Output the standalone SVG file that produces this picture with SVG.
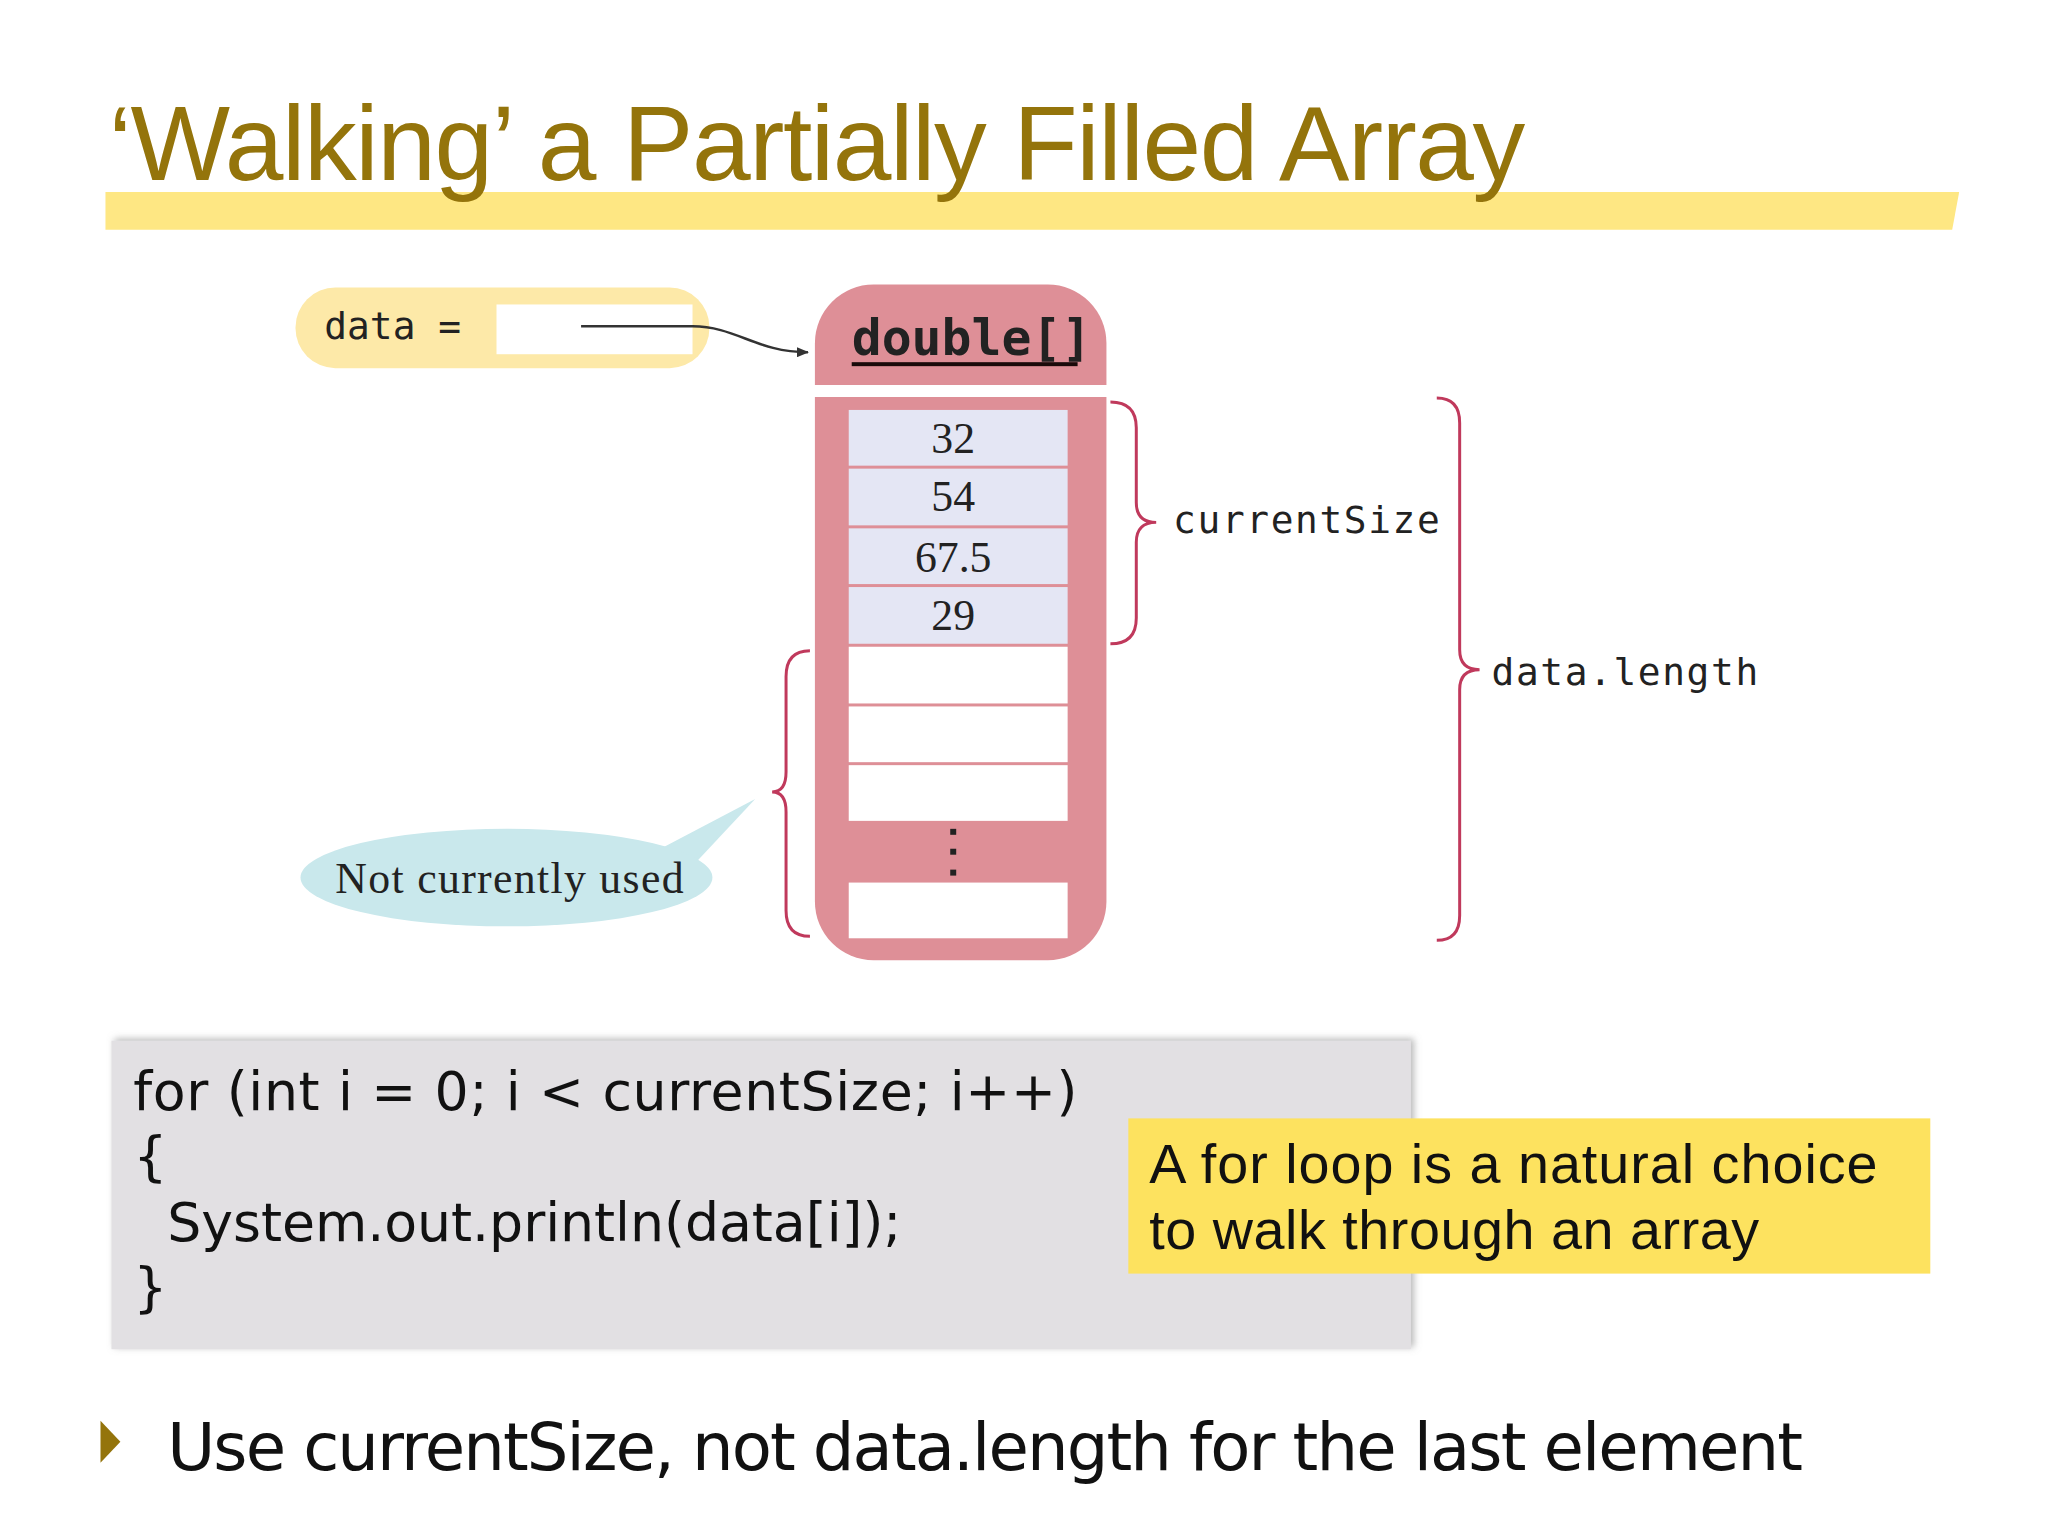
<svg xmlns="http://www.w3.org/2000/svg" width="2048" height="1536" viewBox="0 0 2048 1536">
<defs>
<style>
.mono{font-family:"DejaVu Sans Mono","Liberation Mono",monospace;fill:#222}
.num{font-family:"Liberation Serif",serif;font-size:44px;fill:#222;text-anchor:middle}
.code{font-family:"DejaVu Sans","Open Sans",sans-serif;font-size:54px;fill:#111}
.brace{fill:none;stroke:#c0395c;stroke-width:3}
.cellf{fill:#e4e6f4}
.celle{fill:#fff}
</style>
<marker id="ah" markerWidth="12" markerHeight="10" refX="11" refY="5" orient="auto" markerUnits="userSpaceOnUse"><path d="M0,0 L12,5 L0,10 Z" fill="#333"/></marker>
<filter id="sh" x="-5%" y="-5%" width="110%" height="115%"><feDropShadow dx="3" dy="-2" stdDeviation="4" flood-color="#888" flood-opacity="0.6"/></filter>
</defs>
<rect width="2048" height="1536" fill="#fff"/>
<g transform="scale(0.995)">
<g id="title">
<polygon points="106,193 1969,193 1962,231 106,231" fill="#fee783"/>
<text x="109" y="181" font-family="Liberation Sans,Arial,sans-serif" font-size="106" fill="#94740b" textLength="1424">‘Walking’ a Partially Filled Array</text>
</g>
<g id="data-var">
<rect x="297" y="289" width="416" height="81" rx="40" fill="#fde9a8"/>
<rect x="499" y="306" width="197" height="50" fill="#fff"/>
<text x="326" y="341" class="mono" font-size="38">data =</text>
</g>
<g id="array">
<path d="M819,387 V345 A59,59 0 0 1 878,286 H1053 A59,59 0 0 1 1112,345 V387 Z" fill="#de8f97"/>
<text x="856" y="357" class="mono" font-size="50" font-weight="bold" fill="#1a0a0a">double[]</text>
<rect x="856" y="364" width="227" height="4" fill="#1a0a0a"/>
<path d="M819,399 H1112 V906 A59,59 0 0 1 1053,965 H878 A59,59 0 0 1 819,906 Z" fill="#de8f97"/>
<rect class="cellf" x="853" y="412" width="220" height="56"/>
<rect class="cellf" x="853" y="471" width="220" height="57"/>
<rect class="cellf" x="853" y="531" width="220" height="56"/>
<rect class="cellf" x="853" y="590" width="220" height="57"/>
<rect class="celle" x="853" y="650" width="220" height="57"/>
<rect class="celle" x="853" y="710" width="220" height="56"/>
<rect class="celle" x="853" y="769" width="220" height="56"/>
<rect class="celle" x="853" y="887" width="220" height="56"/>
<text class="num" x="958" y="455">32</text>
<text class="num" x="958" y="514">54</text>
<text class="num" x="958" y="575">67.5</text>
<text class="num" x="958" y="633">29</text>
<rect x="955" y="833" width="6" height="6" fill="#222"/>
<rect x="955" y="853" width="6" height="6" fill="#222"/>
<rect x="955" y="874" width="6" height="6" fill="#222"/>
</g>
<g id="connectors">
<path d="M584,328 H696 C740,328 760,354 812,354" fill="none" stroke="#333" stroke-width="2.5" marker-end="url(#ah)"/>
</g>
<g id="currentSize">
<path class="brace" d="M1116,404 Q1142,404 1142,430 V505 Q1142,525 1162,525 Q1142,525 1142,545 V621 Q1142,647 1116,647"/>
<text x="1179" y="536" class="mono" font-size="38" textLength="268">currentSize</text>
</g>
<g id="datalength">
<path class="brace" d="M1444,400 Q1467,400 1467,425 V653 Q1467,673 1487,673 Q1467,673 1467,693 V920 Q1467,945 1444,945"/>
<text x="1499" y="688" class="mono" font-size="38" textLength="268">data.length</text>
</g>
<g id="unused">
<path class="brace" d="M814,654 Q790,654 790,680 V776 Q790,796 776,796 Q790,796 790,816 V915 Q790,941 814,941"/>
<path d="M660,855 L759,803 L700,866 Z" fill="#c9e8ec"/>
<ellipse cx="509" cy="882" rx="207" ry="49" fill="#c9e8ec"/>
<text x="512" y="897" font-family="Liberation Serif,serif" font-size="44" fill="#222" text-anchor="middle" textLength="350">Not currently used</text>
</g>
<g id="code">
<rect x="112" y="1046" width="1306" height="310" fill="#e2e0e3" filter="url(#sh)"/>
<text class="code" x="134" y="1116" textLength="949">for (int i = 0; i &lt; currentSize; i++)</text>
<text class="code" x="134" y="1181">{</text>
<text class="code" x="168" y="1247" textLength="738">System.out.println(data[i]);</text>
<text class="code" x="134" y="1313">}</text>
</g>
<g id="note">
<rect x="1134" y="1124" width="806" height="156" fill="#fde25f"/>
<text x="1155" y="1189" font-family="Liberation Sans,Arial,sans-serif" font-size="56" fill="#111" textLength="732">A for loop is a natural choice</text>
<text x="1155" y="1255" font-family="Liberation Sans,Arial,sans-serif" font-size="56" fill="#111" textLength="613">to walk through an array</text>
</g>
<g id="bullet">
<polygon points="101,1428 121,1449 101,1470" fill="#94740b"/>
<text x="168" y="1477" font-family="DejaVu Sans,sans-serif" font-size="66" fill="#111" textLength="1644">Use currentSize, not data.length for the last element</text>
</g>
</g>
</svg>
